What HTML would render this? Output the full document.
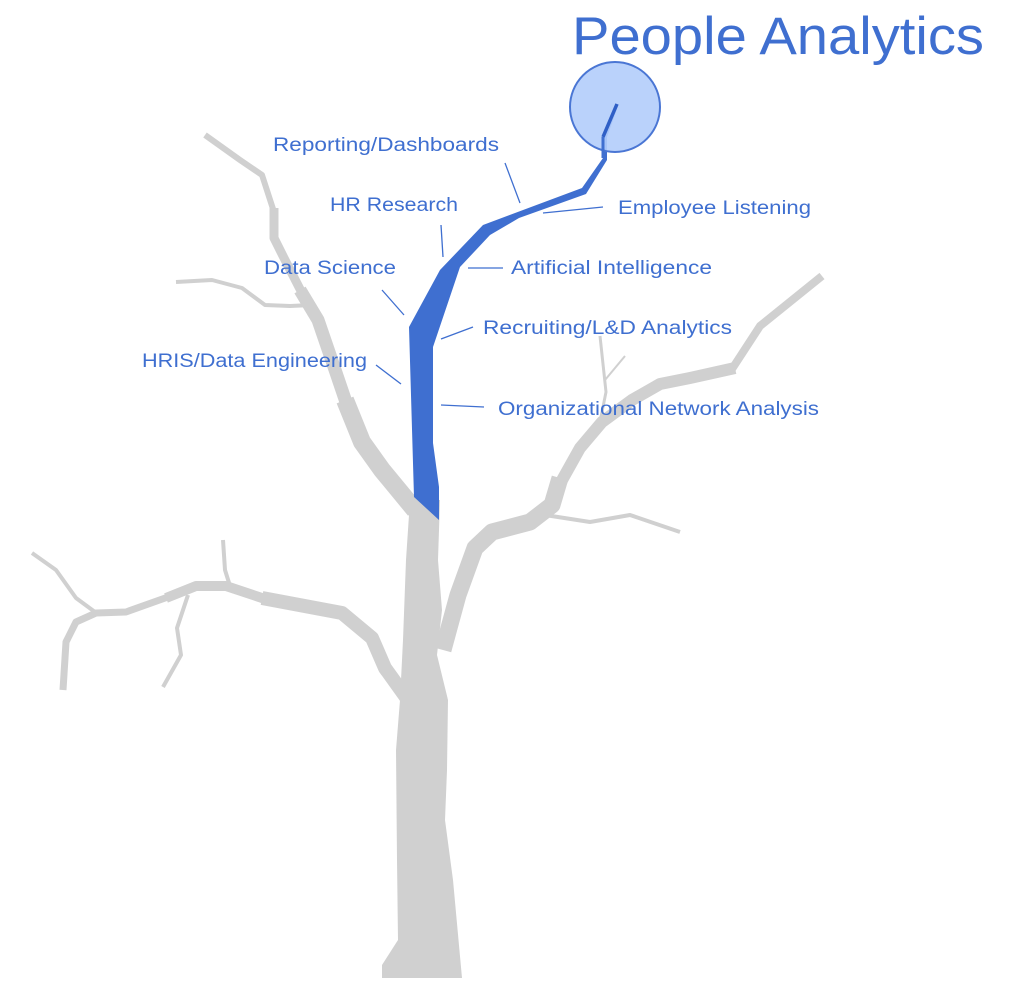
<!DOCTYPE html>
<html><head><meta charset="utf-8"><style>
html,body{margin:0;padding:0;background:#fff;}
svg{display:block;}
text{font-family:"Liberation Sans",sans-serif;fill:#3f6fd0;}
</style></head><body>
<svg width="1017" height="993" viewBox="0 0 1017 993" xmlns="http://www.w3.org/2000/svg">
<g fill="none" stroke="#d0d0d0" stroke-linejoin="round" stroke-linecap="butt">
  <!-- upper-left branch -->
  <polyline points="415,510 382,470 362,442 345,400" stroke-width="18"/>
  <polyline points="347,405 330,355 318,320 300,290" stroke-width="13"/>
  <polyline points="302,293 284,258 274,238 274,208" stroke-width="9"/>
  <polyline points="274,212 262,175 240,160 205,135" stroke-width="6"/>
  <polyline points="312,305 290,306 265,305 242,288 212,280 176,282" stroke-width="4"/>
  <!-- lower-left branch -->
  <polyline points="408,700 385,668 372,638 342,613 262,598" stroke-width="14"/>
  <polyline points="265,599 226,586 196,586 166,598" stroke-width="10"/>
  <polyline points="168,597 126,612 96,613 76,622 66,642 63,690" stroke-width="7"/>
  <polyline points="95,612 76,598 56,570 32,553" stroke-width="4"/>
  <polyline points="230,586 225,570 223,540" stroke-width="4"/>
  <polyline points="188,595 177,628 181,655 163,687" stroke-width="4"/>
  <!-- right branch -->
  <polyline points="443,650 458,595 475,548 492,532 530,522 552,505 560,478" stroke-width="17"/>
  <polyline points="561,482 580,448 602,422 632,400 660,384 690,378 735,368" stroke-width="12"/>
  <polyline points="732,369 760,326 822,276" stroke-width="8"/>
  <polyline points="545,515 590,522 630,515 680,532" stroke-width="4"/>
  <polyline points="600,422 606,392 600,336" stroke-width="3"/>
  <polyline points="605,380 625,356" stroke-width="2"/>
</g>
<polygon fill="#d0d0d0" points="410,500 440,500 438,560 442,610 437,655 448,700 447,770 445,820 453,880 462,978 382,978 382,965 398,940 397,860 396,750 400,700 403,640 406,560"/>
<!-- blue branch -->
<polygon fill="#3f6fd0" points="414,497 409,327 440,270 483,225 582,188 603,158 603,137 615,105 618,106 607,137 607,160 586,194 519,218 490,235 460,267 433,347 433,443 439,487 439,520"/>
<circle cx="615" cy="107" r="45" fill="#b3cdfb" fill-opacity="0.9" stroke="#4a76d4" stroke-width="2"/>
<polyline points="603,137 617,104" stroke="#2f5fc6" stroke-width="3.5" fill="none"/>
<polyline points="603,137 603,158" stroke="#3f6fd0" stroke-width="3" fill="none"/>
<!-- leader lines -->
<g stroke="#3f6fd0" stroke-width="1.3">
  <line x1="505" y1="163" x2="520" y2="203"/>
  <line x1="543" y1="213" x2="603" y2="207"/>
  <line x1="441" y1="225" x2="443" y2="257"/>
  <line x1="468" y1="268" x2="503" y2="268"/>
  <line x1="382" y1="290" x2="404" y2="315"/>
  <line x1="441" y1="339" x2="473" y2="327"/>
  <line x1="376" y1="365" x2="401" y2="384"/>
  <line x1="441" y1="405" x2="484" y2="407"/>
</g>
<text x="572" y="54" font-size="53" textLength="412" lengthAdjust="spacingAndGlyphs">People Analytics</text>
<g font-size="19">
  <text x="273" y="151" textLength="226" lengthAdjust="spacingAndGlyphs">Reporting/Dashboards</text>
  <text x="330" y="211" textLength="128" lengthAdjust="spacingAndGlyphs">HR Research</text>
  <text x="618" y="214" textLength="193" lengthAdjust="spacingAndGlyphs">Employee Listening</text>
  <text x="264" y="274" textLength="132" lengthAdjust="spacingAndGlyphs">Data Science</text>
  <text x="511" y="274" textLength="201" lengthAdjust="spacingAndGlyphs">Artificial Intelligence</text>
  <text x="483" y="334" textLength="249" lengthAdjust="spacingAndGlyphs">Recruiting/L&amp;D Analytics</text>
  <text x="142" y="367" textLength="225" lengthAdjust="spacingAndGlyphs">HRIS/Data Engineering</text>
  <text x="498" y="415" textLength="321" lengthAdjust="spacingAndGlyphs">Organizational Network Analysis</text>
</g>
</svg>
</body></html>
